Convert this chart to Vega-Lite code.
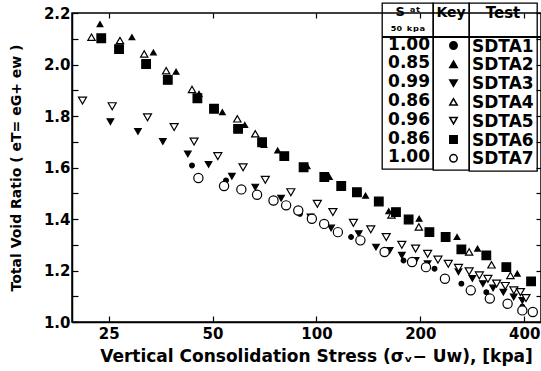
{
  "$schema": "https://vega.github.io/schema/vega-lite/v6.json",
  "width": 469,
  "height": 309,
  "autosize": "none",
  "padding": {"left": 72, "top": 13, "right": 0, "bottom": 49},
  "background": "white",
  "data": {"values": [
    {"test":"SDTA1","stress":43.6,"ratio":1.608},{"test":"SDTA1","stress":54.7,"ratio":1.550},{"test":"SDTA1","stress":67.3,"ratio":1.491},{"test":"SDTA1","stress":89.6,"ratio":1.420},{"test":"SDTA1","stress":126,"ratio":1.330},{"test":"SDTA1","stress":178.8,"ratio":1.239},{"test":"SDTA1","stress":219.9,"ratio":1.207},{"test":"SDTA1","stress":263,"ratio":1.149},{"test":"SDTA1","stress":310.6,"ratio":1.116},{"test":"SDTA1","stress":358,"ratio":1.078},{"test":"SDTA1","stress":395,"ratio":1.060},
    {"test":"SDTA2","stress":23.6,"ratio":2.157},{"test":"SDTA2","stress":29.2,"ratio":2.106},{"test":"SDTA2","stress":33.7,"ratio":2.047},{"test":"SDTA2","stress":39.2,"ratio":1.972},{"test":"SDTA2","stress":45.7,"ratio":1.886},{"test":"SDTA2","stress":53.4,"ratio":1.815},{"test":"SDTA2","stress":62.0,"ratio":1.765},{"test":"SDTA2","stress":70.5,"ratio":1.688},{"test":"SDTA2","stress":77.2,"ratio":1.666},{"test":"SDTA2","stress":94,"ratio":1.605},{"test":"SDTA2","stress":109,"ratio":1.563},{"test":"SDTA2","stress":138.8,"ratio":1.491},{"test":"SDTA2","stress":162,"ratio":1.430},{"test":"SDTA2","stress":198.4,"ratio":1.401},{"test":"SDTA2","stress":255.5,"ratio":1.330},{"test":"SDTA2","stress":293,"ratio":1.285},{"test":"SDTA2","stress":382,"ratio":1.188},
    {"test":"SDTA3","stress":25.3,"ratio":1.778},{"test":"SDTA3","stress":30.4,"ratio":1.740},{"test":"SDTA3","stress":35.9,"ratio":1.701},{"test":"SDTA3","stress":42.4,"ratio":1.653},{"test":"SDTA3","stress":48.7,"ratio":1.612},{"test":"SDTA3","stress":56.9,"ratio":1.566},{"test":"SDTA3","stress":66.5,"ratio":1.524},{"test":"SDTA3","stress":79,"ratio":1.481},{"test":"SDTA3","stress":96.1,"ratio":1.408},{"test":"SDTA3","stress":110.3,"ratio":1.365},{"test":"SDTA3","stress":132.6,"ratio":1.343},{"test":"SDTA3","stress":148.8,"ratio":1.291},{"test":"SDTA3","stress":163,"ratio":1.278},{"test":"SDTA3","stress":176.8,"ratio":1.259},{"test":"SDTA3","stress":193.8,"ratio":1.239},{"test":"SDTA3","stress":210,"ratio":1.226},{"test":"SDTA3","stress":258,"ratio":1.195},{"test":"SDTA3","stress":283,"ratio":1.169},{"test":"SDTA3","stress":303.6,"ratio":1.149},{"test":"SDTA3","stress":325,"ratio":1.132},{"test":"SDTA3","stress":348,"ratio":1.116},{"test":"SDTA3","stress":373,"ratio":1.097},{"test":"SDTA3","stress":395,"ratio":1.084},
    {"test":"SDTA4","stress":22.3,"ratio":2.106},{"test":"SDTA4","stress":26.97,"ratio":2.093},{"test":"SDTA4","stress":31.7,"ratio":2.041},{"test":"SDTA4","stress":36.7,"ratio":1.976},{"test":"SDTA4","stress":43.6,"ratio":1.903},{"test":"SDTA4","stress":59.0,"ratio":1.789},{"test":"SDTA4","stress":66.5,"ratio":1.731},{"test":"SDTA4","stress":165,"ratio":1.416},{"test":"SDTA4","stress":198,"ratio":1.369},{"test":"SDTA4","stress":277,"ratio":1.272},{"test":"SDTA4","stress":321.6,"ratio":1.222},{"test":"SDTA4","stress":364.8,"ratio":1.181},
    {"test":"SDTA5","stress":21.0,"ratio":1.860},{"test":"SDTA5","stress":25.6,"ratio":1.838},{"test":"SDTA5","stress":32.4,"ratio":1.795},{"test":"SDTA5","stress":38.7,"ratio":1.757},{"test":"SDTA5","stress":44.2,"ratio":1.701},{"test":"SDTA5","stress":51.8,"ratio":1.644},{"test":"SDTA5","stress":61.3,"ratio":1.601},{"test":"SDTA5","stress":71.1,"ratio":1.552},{"test":"SDTA5","stress":84.3,"ratio":1.504},{"test":"SDTA5","stress":100.6,"ratio":1.459},{"test":"SDTA5","stress":111.6,"ratio":1.427},{"test":"SDTA5","stress":128,"ratio":1.385},{"test":"SDTA5","stress":143.7,"ratio":1.360},{"test":"SDTA5","stress":159.3,"ratio":1.330},{"test":"SDTA5","stress":176.8,"ratio":1.300},{"test":"SDTA5","stress":193.8,"ratio":1.285},{"test":"SDTA5","stress":210,"ratio":1.265},{"test":"SDTA5","stress":225,"ratio":1.242},{"test":"SDTA5","stress":241,"ratio":1.226},{"test":"SDTA5","stress":258,"ratio":1.210},{"test":"SDTA5","stress":277,"ratio":1.197},{"test":"SDTA5","stress":296.6,"ratio":1.181},{"test":"SDTA5","stress":314,"ratio":1.168},{"test":"SDTA5","stress":332.8,"ratio":1.149},{"test":"SDTA5","stress":352.6,"ratio":1.140},{"test":"SDTA5","stress":373.3,"ratio":1.123},{"test":"SDTA5","stress":390,"ratio":1.116},{"test":"SDTA5","stress":404.7,"ratio":1.093},
    {"test":"SDTA6","stress":23.8,"ratio":2.102},{"test":"SDTA6","stress":26.8,"ratio":2.060},{"test":"SDTA6","stress":32.1,"ratio":2.002},{"test":"SDTA6","stress":37.1,"ratio":1.940},{"test":"SDTA6","stress":45.2,"ratio":1.869},{"test":"SDTA6","stress":50.5,"ratio":1.828},{"test":"SDTA6","stress":59.3,"ratio":1.750},{"test":"SDTA6","stress":69.6,"ratio":1.698},{"test":"SDTA6","stress":80.7,"ratio":1.644},{"test":"SDTA6","stress":91.8,"ratio":1.601},{"test":"SDTA6","stress":105.4,"ratio":1.563},{"test":"SDTA6","stress":118,"ratio":1.528},{"test":"SDTA6","stress":131,"ratio":1.504},{"test":"SDTA6","stress":151.6,"ratio":1.468},{"test":"SDTA6","stress":170,"ratio":1.427},{"test":"SDTA6","stress":185,"ratio":1.398},{"test":"SDTA6","stress":212.5,"ratio":1.349},{"test":"SDTA6","stress":236.8,"ratio":1.330},{"test":"SDTA6","stress":263,"ratio":1.282},{"test":"SDTA6","stress":310.6,"ratio":1.259},{"test":"SDTA6","stress":355,"ratio":1.213},{"test":"SDTA6","stress":418.8,"ratio":1.158},
    {"test":"SDTA7","stress":45.5,"ratio":1.559},{"test":"SDTA7","stress":54,"ratio":1.528},{"test":"SDTA7","stress":60.6,"ratio":1.515},{"test":"SDTA7","stress":67.3,"ratio":1.494},{"test":"SDTA7","stress":75.1,"ratio":1.472},{"test":"SDTA7","stress":81.7,"ratio":1.453},{"test":"SDTA7","stress":88.6,"ratio":1.433},{"test":"SDTA7","stress":97,"ratio":1.401},{"test":"SDTA7","stress":105.3,"ratio":1.381},{"test":"SDTA7","stress":115.4,"ratio":1.349},{"test":"SDTA7","stress":134.1,"ratio":1.317},{"test":"SDTA7","stress":157.6,"ratio":1.272},{"test":"SDTA7","stress":189.3,"ratio":1.233},{"test":"SDTA7","stress":207.7,"ratio":1.213},{"test":"SDTA7","stress":235.7,"ratio":1.168},{"test":"SDTA7","stress":280,"ratio":1.123},{"test":"SDTA7","stress":318,"ratio":1.091},{"test":"SDTA7","stress":358,"ratio":1.071},{"test":"SDTA7","stress":395,"ratio":1.045},{"test":"SDTA7","stress":423.6,"ratio":1.039}
  ]},
  "resolve": {"axis": {"x": "independent", "y": "independent"}},
  "layer": [
    {
      "mark": {"type": "point", "filled": false, "stroke": "black", "opacity": 1},
      "encoding": {
        "x": {"field": "stress", "type": "quantitative",
          "scale": {"type": "log", "domain": [19.58, 447.4], "nice": false},
          "axis": {"orient": "bottom", "values": [25, 50, 100, 200, 400], "format": "d", "tickSize": -6, "labelPadding": 10,
            "title": "Vertical  Consolidation  Stress  (σᵥ− Uw), [kpa]", "titleFontSize": 17, "titlePadding": 7, "titleX": 244}},
        "y": {"field": "ratio", "type": "quantitative",
          "scale": {"domain": [1.0, 2.2], "nice": false, "zero": false},
          "axis": {"orient": "left", "values": [1.0, 1.1, 1.2, 1.3, 1.4, 1.5, 1.6, 1.7, 1.8, 1.9, 2.0, 2.1, 2.2],
            "labelExpr": "abs(round(datum.value*10)) % 2 == 0 ? format(datum.value, '.1f') : ''",
            "tickSize": -6, "labelPadding": 8,
            "title": "Total  Void  Ratio ( eT= eG+ ew )", "titleFontSize": 14, "titlePadding": 20}},
        "shape": {"field": "test", "type": "nominal",
          "scale": {"range": ["circle", "triangle-up", "triangle-down", "triangle-up", "triangle-down", "square", "circle"]},
          "legend": {"orient": "none", "legendX": 361, "legendY": -10, "title": ["Key", " "], "titleFontSize": 14, "labelExpr": "' '",
            "symbolSize": 55, "symbolOffset": 6, "labelOffset": 0,
            "encode": {"symbols": {"stroke": {"value": "black"}, "strokeWidth": {"value": 1.2}}}}},
        "fill": {"field": "test", "type": "nominal",
          "scale": {"range": ["black", "black", "black", "white", "white", "black", "white"]},
          "legend": {"orient": "none", "legendX": 361, "legendY": -10, "title": ["Key", " "], "titleFontSize": 14, "labelExpr": "' '",
            "symbolSize": 55, "symbolOffset": 6, "labelOffset": 0,
            "encode": {"symbols": {"stroke": {"value": "black"}, "strokeWidth": {"value": 1.2}}}}},
        "opacity": {"field": "test", "type": "ordinal",
          "scale": {"domain": ["SDTA1", "SDTA2", "SDTA3", "SDTA4", "SDTA5", "SDTA6", "SDTA7"], "range": [1, 1, 1, 1, 1, 1, 1]},
          "legend": {"orient": "none", "legendX": 310, "legendY": -10, "title": ["S ᵃᵗ", "₅₀ ₖₚₐ"], "titleFontSize": 13,
            "labelExpr": "['1.00','0.85','0.99','0.86','0.96','0.86','1.00'][indexof(['SDTA1','SDTA2','SDTA3','SDTA4','SDTA5','SDTA6','SDTA7'], datum.label)]",
            "symbolSize": 0, "labelAlign": "right", "labelOffset": 28,
            "encode": {"symbols": {"opacity": {"value": 0}}}}},
        "strokeWidth": {"field": "test", "type": "ordinal",
          "sort": {"field": "test", "op": "min"},
          "scale": {"range": [1.2, 1.2, 1.2, 1.2, 1.2, 1.2, 1.2]},
          "legend": {"orient": "none", "legendX": 397, "legendY": -10, "title": ["Test", " "],
            "labelExpr": "datum.label + ' '",
            "symbolSize": 0, "labelOffset": -17,
            "encode": {"symbols": {"opacity": {"value": 0}}}}},
        "size": {"field": "test", "type": "ordinal",
          "sort": {"field": "test", "op": "max"},
          "scale": {"range": [22, 85, 85, 75, 75, 70, 60]},
          "legend": null}
      }
    },
    {
      "mark": {"type": "rule", "color": "black", "strokeWidth": 1.3},
      "encoding": {
        "x": {"datum": 155, "type": "quantitative", "axis": null},
        "x2": {"datum": 447.4},
        "y": {"datum": 2.1059, "type": "quantitative", "axis": null}
      }
    },
    {
      "mark": {"type": "point", "opacity": 0},
      "encoding": {
        "x": {"field": "stress", "type": "quantitative",
          "axis": {"orient": "top", "values": [25, 50, 100, 200, 400], "labels": false, "title": null, "tickSize": -5, "domain": false}},
        "y": {"field": "ratio", "type": "quantitative",
          "axis": {"orient": "right", "values": [1.0, 1.1, 1.2, 1.3, 1.4, 1.5, 1.6, 1.7, 1.8, 1.9, 2.0, 2.1, 2.2], "labels": false, "title": null, "tickSize": -5, "domain": false}}
      }
    }
  ],
  "config": {
    "font": "DejaVu Sans",
    "view": {"stroke": "black", "strokeWidth": 1.5},
    "axis": {"labelFont": "DejaVu Sans", "labelFontWeight": "bold", "labelFontSize": 15, "labelColor": "black",
      "titleFont": "DejaVu Sans", "titleFontWeight": "bold", "titleColor": "black", "grid": false,
      "domainColor": "black", "domainWidth": 1.5, "tickColor": "black", "tickWidth": 1.2},
    "legend": {"strokeColor": "black", "strokeWidth": 1.3, "padding": 3, "cornerRadius": 0,
      "labelFont": "DejaVu Sans", "labelFontSize": 17, "labelFontWeight": "bold", "labelColor": "black",
      "titleFont": "DejaVu Sans", "titleFontSize": 15, "titleFontWeight": "bold", "titleColor": "black",
      "titleLineHeight": 15, "titlePadding": 2, "rowPadding": 0.8, "titleAnchor": "middle"}
  }
}
